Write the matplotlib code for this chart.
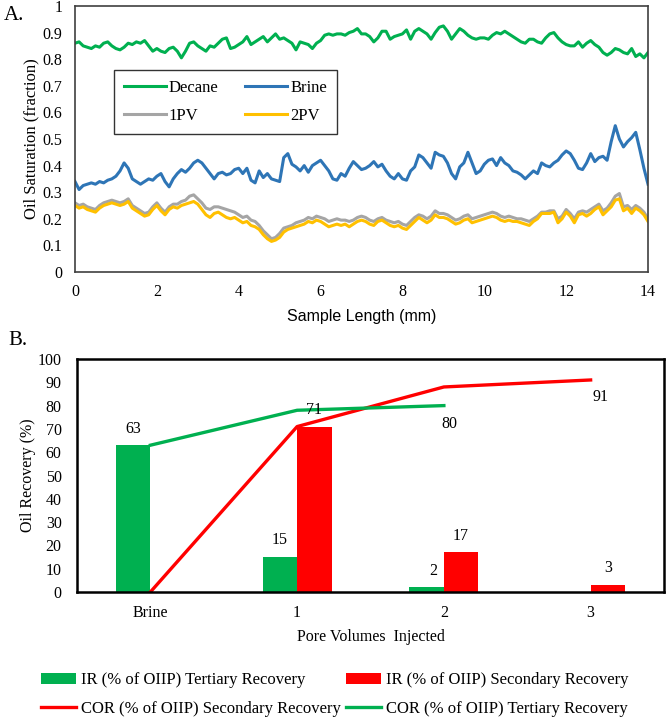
import numpy as np
import matplotlib.pyplot as plt
from matplotlib.ticker import FuncFormatter

# ---- Panel A: oil saturation profiles, sampled every 0.1 mm (0 .. 14 mm) ----
sample_mm = np.round(np.arange(141) * 0.1, 1)

decane = [0.86, 0.865, 0.85, 0.845, 0.84, 0.85, 0.845, 0.86, 0.865, 0.85,
          0.84, 0.835, 0.845, 0.86, 0.855, 0.865, 0.86, 0.87, 0.85, 0.83,
          0.84, 0.83, 0.825, 0.84, 0.845, 0.83, 0.805, 0.83, 0.86, 0.865,
          0.85, 0.84, 0.83, 0.85, 0.845, 0.86, 0.875, 0.88, 0.84, 0.845,
          0.855, 0.865, 0.885, 0.855, 0.865, 0.875, 0.885, 0.865, 0.88, 0.895,
          0.875, 0.88, 0.87, 0.86, 0.835, 0.865, 0.86, 0.855, 0.84, 0.86,
          0.87, 0.89, 0.895, 0.89, 0.895, 0.895, 0.89, 0.90, 0.905, 0.915,
          0.895, 0.895, 0.885, 0.865, 0.88, 0.905, 0.905, 0.875, 0.885, 0.89,
          0.895, 0.91, 0.875, 0.905, 0.915, 0.905, 0.895, 0.875, 0.90, 0.92,
          0.925, 0.905, 0.875, 0.895, 0.915, 0.905, 0.89, 0.88, 0.875, 0.88,
          0.88, 0.875, 0.89, 0.90, 0.895, 0.905, 0.895, 0.885, 0.875, 0.865,
          0.86, 0.875, 0.875, 0.865, 0.86, 0.88, 0.895, 0.90, 0.88, 0.865,
          0.855, 0.85, 0.85, 0.865, 0.845, 0.86, 0.87, 0.855, 0.845, 0.825,
          0.815, 0.825, 0.84, 0.835, 0.825, 0.82, 0.84, 0.81, 0.82, 0.805,
          0.825]

brine = [0.34, 0.31, 0.325, 0.33, 0.335, 0.33, 0.34, 0.335, 0.345, 0.35,
         0.36, 0.38, 0.41, 0.39, 0.35, 0.34, 0.33, 0.34, 0.35, 0.345,
         0.36, 0.37, 0.34, 0.32, 0.35, 0.37, 0.385, 0.375, 0.39, 0.41,
         0.42, 0.41, 0.39, 0.37, 0.35, 0.37, 0.375, 0.365, 0.37, 0.385,
         0.39, 0.37, 0.39, 0.345, 0.335, 0.38, 0.355, 0.37, 0.35, 0.345,
         0.34, 0.43, 0.445, 0.405, 0.395, 0.38, 0.40, 0.375, 0.40, 0.41,
         0.42, 0.40, 0.38, 0.35, 0.345, 0.37, 0.36, 0.39, 0.415, 0.40,
         0.385, 0.39, 0.40, 0.415, 0.395, 0.405, 0.38, 0.36, 0.35, 0.37,
         0.35, 0.345, 0.38, 0.395, 0.44, 0.43, 0.41, 0.39, 0.45, 0.44,
         0.435, 0.41, 0.37, 0.35, 0.395, 0.41, 0.45, 0.41, 0.37, 0.38,
         0.405, 0.42, 0.425, 0.40, 0.43, 0.41, 0.40, 0.38, 0.375, 0.365,
         0.35, 0.365, 0.38, 0.37, 0.41, 0.40, 0.395, 0.41, 0.42, 0.44,
         0.455, 0.445, 0.42, 0.39, 0.385, 0.41, 0.445, 0.415, 0.43, 0.435,
         0.42, 0.49, 0.55, 0.50, 0.47, 0.49, 0.505, 0.525, 0.46, 0.39,
         0.33]

pv1 = [0.26, 0.25, 0.255, 0.245, 0.24, 0.235, 0.25, 0.26, 0.265, 0.27,
       0.265, 0.26, 0.265, 0.275, 0.25, 0.24, 0.23, 0.22, 0.225, 0.245,
       0.26, 0.24, 0.225, 0.245, 0.255, 0.255, 0.265, 0.27, 0.285, 0.29,
       0.275, 0.26, 0.24, 0.235, 0.245, 0.245, 0.24, 0.235, 0.23, 0.225,
       0.215, 0.205, 0.21, 0.195, 0.19, 0.175, 0.155, 0.14, 0.125, 0.13,
       0.145, 0.165, 0.17, 0.175, 0.185, 0.19, 0.195, 0.205, 0.20, 0.21,
       0.205, 0.20, 0.19, 0.195, 0.20, 0.195, 0.195, 0.19, 0.195, 0.205,
       0.21, 0.205, 0.195, 0.19, 0.20, 0.205, 0.195, 0.19, 0.185, 0.19,
       0.18, 0.175, 0.19, 0.205, 0.215, 0.21, 0.20, 0.21, 0.23, 0.22,
       0.22, 0.215, 0.205, 0.195, 0.20, 0.21, 0.215, 0.20, 0.205, 0.21,
       0.215, 0.22, 0.225, 0.22, 0.21, 0.205, 0.21, 0.205, 0.20, 0.20,
       0.195, 0.19, 0.20, 0.21, 0.225, 0.225, 0.23, 0.23, 0.20, 0.21,
       0.235, 0.22, 0.20, 0.225, 0.23, 0.225, 0.235, 0.245, 0.255, 0.23,
       0.24, 0.26, 0.285, 0.295, 0.245, 0.25, 0.235, 0.25, 0.24, 0.225,
       0.20]

pv2 = [0.25, 0.24, 0.245, 0.235, 0.23, 0.225, 0.24, 0.25, 0.255, 0.26,
       0.255, 0.25, 0.255, 0.265, 0.24, 0.23, 0.22, 0.21, 0.215, 0.235,
       0.25, 0.23, 0.215, 0.235, 0.245, 0.24, 0.25, 0.255, 0.26, 0.265,
       0.255, 0.235, 0.215, 0.205, 0.22, 0.225, 0.215, 0.205, 0.20, 0.205,
       0.195, 0.185, 0.19, 0.175, 0.17, 0.16, 0.14, 0.125, 0.115, 0.12,
       0.13, 0.15, 0.16, 0.165, 0.17, 0.175, 0.18, 0.19, 0.185, 0.195,
       0.19, 0.18, 0.17, 0.175, 0.18, 0.175, 0.18, 0.17, 0.18, 0.19,
       0.195, 0.19, 0.18, 0.175, 0.19, 0.195, 0.185, 0.175, 0.17, 0.175,
       0.165, 0.16, 0.175, 0.19, 0.205, 0.195, 0.185, 0.195, 0.215, 0.205,
       0.205, 0.20, 0.19, 0.18, 0.185, 0.195, 0.20, 0.185, 0.19, 0.195,
       0.20, 0.205, 0.21, 0.205, 0.195, 0.19, 0.195, 0.19, 0.19, 0.185,
       0.18, 0.175, 0.19, 0.20, 0.22, 0.22, 0.22, 0.225, 0.185, 0.20,
       0.225, 0.21, 0.185, 0.215, 0.22, 0.21, 0.22, 0.235, 0.245, 0.215,
       0.23, 0.245, 0.27, 0.275, 0.23, 0.24, 0.22, 0.24, 0.23, 0.215,
       0.19]

# ---- Panel B: oil recovery ----
categories = ['Brine', '1', '2', '3']
ir_tertiary = [63, 15, 2, 0]
ir_secondary = [0, 71, 17, 3]
cor_secondary = [0, 71, 88, 91]
cor_tertiary = [63, 78, 80]

GREEN = '#00B050'
RED = '#FF0000'
SERIF = 'Liberation Serif'

plt.rcParams['font.family'] = SERIF
plt.rcParams['font.size'] = 11

fig = plt.figure(figsize=(6.66, 7.19), dpi=100)

# ---------------- A ----------------
axA = fig.add_axes([0.1126, 0.6217, 0.8604, 0.370])
axA.plot(sample_mm, decane, color=GREEN, lw=2.2, label='Decane')
axA.plot(sample_mm, pv1, color='#A5A5A5', lw=2.2, label='1PV')
axA.plot(sample_mm, brine, color='#2E75B6', lw=2.2, label='Brine')
axA.plot(sample_mm, pv2, color='#FFC000', lw=2.2, label='2PV')
axA.set_xlim(0, 14)
axA.set_ylim(0, 1)
axA.set_xticks(range(0, 15, 2))
axA.set_yticks(np.round(np.arange(0, 1.01, 0.1), 1))
axA.yaxis.set_major_formatter(FuncFormatter(lambda v, p: f'{v:g}'))
axA.tick_params(length=0, labelsize=11.5, pad=9)
for s in axA.spines.values():
    s.set_color('#404040')
    s.set_linewidth(1.2)
axA.set_ylabel('Oil Saturation (fraction)', fontsize=12, labelpad=2)
axA.set_xlabel('Sample Length (mm)', fontsize=11.5, family='Liberation Sans', labelpad=6)
legA = axA.legend(ncol=2, loc='upper left', bbox_to_anchor=(0.068, 0.759),
                  borderaxespad=0, fancybox=False, edgecolor='black',
                  fontsize=12, handlelength=2.5, handletextpad=0.2,
                  columnspacing=1.6, labelspacing=0.7, borderpad=0.6)
legA.get_frame().set_linewidth(1.0)
fig.text(0.005, 0.978, 'A.', fontsize=15, va='center', ha='left')

# ---------------- B ----------------
axB = fig.add_axes([0.1156, 0.1766, 0.8814, 0.3241])
x = np.arange(len(categories))
w = 0.235
gb = axB.bar(x - w / 2, ir_tertiary, w, color=GREEN,
             label='IR (% of OIIP) Tertiary Recovery')
rb = axB.bar(x + w / 2, ir_secondary, w, color=RED,
             label='IR (% of OIIP) Secondary Recovery')
rl, = axB.plot(x, cor_secondary, color=RED, lw=2.4,
               label='COR (% of OIIP) Secondary Recovery')
gl, = axB.plot(x[:len(cor_tertiary)], cor_tertiary, color=GREEN, lw=2.4,
               label='COR (% of OIIP) Tertiary Recovery')

for xi, v in zip(x, ir_tertiary):
    if v > 0:
        dx = 5 if v < 5 else 0
        axB.annotate(str(v), (xi - w / 2, v), xytext=(dx, 12), textcoords='offset points',
                     ha='center', va='center', fontsize=11.5)
for xi, v in zip(x, ir_secondary):
    if v > 0:
        axB.annotate(str(v), (xi + w / 2, v), xytext=(0, 12), textcoords='offset points',
                     ha='center', va='center', fontsize=11.5)
axB.annotate(str(cor_tertiary[-1]), (x[2], cor_tertiary[-1]), xytext=(4, -13),
             textcoords='offset points', ha='center', va='center', fontsize=11.5)
axB.annotate(str(cor_secondary[-1]), (x[3], cor_secondary[-1]), xytext=(7, -12),
             textcoords='offset points', ha='center', va='center', fontsize=11.5)

axB.set_xlim(-0.5, 3.5)
axB.set_ylim(0, 100)
axB.set_yticks(range(0, 101, 10))
axB.set_xticks(x)
axB.set_xticklabels(categories)
axB.tick_params(length=0, labelsize=11.5)
axB.tick_params(axis='y', pad=11)
axB.tick_params(axis='x', pad=9)
for s in axB.spines.values():
    s.set_color('black')
    s.set_linewidth(1.8)
axB.set_ylabel('Oil Recovery (%)', fontsize=11.5, labelpad=1)
axB.set_xlabel('Pore Volumes  Injected', fontsize=11.5, labelpad=6)
fig.text(0.012, 0.527, 'B.', fontsize=15, va='center', ha='left')

fig.legend([gb, rl, rb, gl],
           [gb.get_label(), rl.get_label(), rb.get_label(), gl.get_label()],
           ncol=2, loc='center', bbox_to_anchor=(0.502, 0.034), frameon=False,
           fontsize=12, handlelength=2.15, handletextpad=0.25, columnspacing=0.3,
           labelspacing=0.75)

fig.savefig('out.png', dpi=100)
